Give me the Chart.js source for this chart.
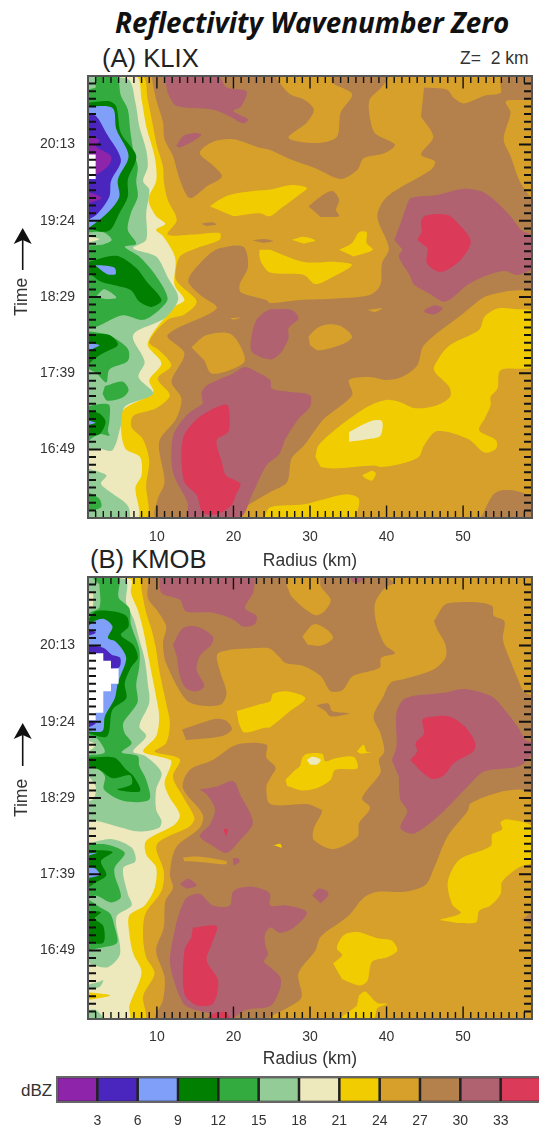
<!DOCTYPE html>
<html><head><meta charset="utf-8">
<style>
html,body{margin:0;padding:0;background:#fff;width:539px;height:1127px;overflow:hidden;position:relative;font-family:"Liberation Sans",sans-serif;color:#222}
canvas{position:absolute;left:0}
.t{position:absolute;white-space:nowrap;line-height:1}
</style>
<script src="https://cdn.jsdelivr.net/npm/chart.js@4/dist/chart.umd.min.js"></script>
</head><body>
<div class="t" style="left:115px;top:3px;font:italic 700 27.8px 'Open Sans';color:#111" id="title">Reflectivity Wavenumber Zero</div>
<div class="t" style="left:102px;top:46px;font-size:25.6px">(A) KLIX</div>
<div class="t" style="left:460px;top:50px;font-size:17.5px;color:#333;white-space:pre">Z=  2 km</div>
<div class="t" style="left:90px;top:547px;font-size:25.6px">(B) KMOB</div>
<div class="t" style="left:21px;top:1082px;font-size:17px;color:#333">dBZ</div>
<canvas id="a" width="539" height="520" style="top:60px"></canvas>
<canvas id="b" width="539" height="520" style="top:561px"></canvas>
<canvas id="c" width="560" height="57" style="top:1070px"></canvas>
<script>
// ---- axes ----
const RADIUS_RANGE=[1,59], SCAN_RANGE=[1,59];
const TIME_TICK_SCANS=[10,20,30,40,50];
const TIME_TICK_LABELS=['16:49','17:39','18:29','19:24','20:13'];
const DBZ_TICKS=[3,6,9,12,15,18,21,24,27,30,33];
const DBZ_BAND_LOW=[0,3,6,9,12,15,18,21,24,27,30,33];
const DBZ_BAND_HIGH=[3,6,9,12,15,18,21,24,27,30,33,36];
const DBZ_COLORS=['#8E24AA','#4A25BE','#7F9FF8','#007F00','#33AB3F','#93CC97','#EEE8BD','#F0CC00','#D6A02A','#B4814C','#B06270','#DB3A58'];
const FULL=[[1,1],[59,1],[59,59],[1,59]];
// ---- KLIX contours: [radius km, scan index], by dBZ band ----
const kBrown1=[[9.3,59],[9.9,55.9],[10.8,52.9],[11,50.7],[12.1,48.5],[13,45.4],[14.3,43],[16.5,44.5],[18.5,45.8],[17.4,47.2],[15.6,48.9],[17.4,50.4],[20,50.7],[23.4,49.6],[24.8,49.3],[27.6,48],[30.7,46.9],[34,45.5],[36.2,46.7],[37,48.2],[39.8,48.9],[41.1,50],[38.5,51.5],[37.8,53.7],[37.8,55.9],[39.4,57.6],[40.2,59],[33,59],[32.9,58.1],[35.5,56.6],[34,54.2],[33.5,51],[30.7,50.2],[27.2,50.9],[29.6,52.9],[30.5,54.6],[29.2,55.9],[27.4,56.6],[26.1,58],[25.5,59]];
const kBrown2=[[44.9,57.5],[47.9,57.2],[48.8,56.1],[50.1,55.4],[52.8,56.4],[54.9,56.8],[54.9,58],[55.4,59],[59.2,59],[58.9,56.1],[55.6,55.7],[56.2,54.2],[55.3,50.7],[56.2,48.5],[57.3,45.4],[58.4,43.6],[59.2,42.5],[59.2,31.6],[55.4,30.7],[52.8,30],[50.1,27.9],[44.9,23.7],[44,21],[42,19.5],[40,19.1],[37.8,19.5],[35.1,19.1],[35.5,17.1],[31.8,14],[30.5,12.3],[29.2,10.5],[27.6,8.8],[27,5.7],[24.8,4.4],[21.3,2.2],[20.8,1],[9.9,1],[10.1,3.5],[11,5.7],[10.3,11],[12.5,14],[13.2,16.7],[11.9,18.9],[13.6,22.6],[11.4,25],[17.8,28.5],[15.6,30.3],[14.1,32.2],[16.5,35.3],[18.2,36.4],[21.3,36.6],[21.9,34],[20.8,31.6],[21,30.6],[24.3,29.6],[24.8,29.2],[28.7,29.6],[33.5,29.8],[37.9,30.3],[39.2,31.6],[39.4,34.4],[40.3,36.4],[38.8,40.6],[40.1,43.2],[45.8,46.7],[46.3,47.8],[44.5,48.7],[46.1,51],[44.5,53.7]];
const kBrown3=[[29.8,41.9],[31.4,43.2],[32.9,43.9],[33.8,42.8],[33.4,41.4],[33.8,40.6],[31.4,40.5]];
const kBrown4=[[52.3,1],[52.7,1.8],[53.8,3.9],[54.9,4.6],[57.1,4.5],[59.1,3.5],[59.1,1]];
const kBrown5=[[22.5,37.4],[24,37.6],[25.2,37.3],[24,37.1]];
const kBrown6=[[15.8,39.6],[17.2,39.8],[17.8,39.5],[16.5,39.3]];
const kGold1=[[29.8,24.8],[30.9,25.9],[32.2,26.4],[34,26.2],[35.5,24.8],[34.2,23.8],[31.1,23],[30,23.7]];
const kGold2=[[14.5,23.4],[16.5,25],[19.7,25.1],[21.5,21.7],[19.5,20.4],[17.1,20],[16.2,21.7]];
const kGold3=[[37.5,28.3],[39.4,28.5],[38.5,28]];
const kGold4=[[19.5,27.2],[21,27.3],[20,27]];
const kYellow1=[[16.9,41.9],[18.2,42.8],[19.5,43.4],[22.6,43.9],[24.8,44.1],[27.6,44.7],[29.6,44.3],[28.3,43.2],[26.3,41.7],[24.8,40.6],[23.4,41],[20,40.6]];
const kYellow2=[[27.6,37.5],[29.2,37.9],[30.7,37.4],[29.2,37]];
const kYellow3=[[33.8,36.2],[35.5,37.1],[36.4,38.5],[37.4,38.5],[37.4,37.1],[38.2,36.2],[35.7,35.3]];
const kYellow4=[[23.4,36.2],[23.4,35.3],[23.7,34.4],[24.8,33.2],[29.2,32.9],[30.7,31.7],[33.1,32.7],[35.5,34.2],[33.5,34.6],[29.2,34.6],[24.8,36.2]];
const kYellow5=[[30.7,9],[31.1,10.5],[33.8,13],[37.5,15.6],[39.9,16.5],[41.8,16.2],[43.8,15.4],[46.6,15.8],[48.3,16.9],[48.2,18.2],[46.2,20.4],[46.9,22.1],[48.3,23.7],[52.1,25.7],[52.8,27.4],[54.5,28.5],[57.1,28.4],[59.2,28],[59.2,21],[54.9,20.4],[54.5,18],[53.6,16.9],[53.6,15.8],[52.9,14.2],[52.1,12.5],[54.3,11.2],[54.3,10.1],[52.8,9.6],[50.6,11.4],[46.6,12.4],[44.9,10.5],[44.2,9],[41.8,8.1],[39.2,7.7],[38.4,7.9],[33.1,7.5],[31.4,7.7]];
const kYellow6=[[36.8,6.6],[38.1,7.2],[38.6,6.8],[38.1,5.9],[37.2,6.2]];
const kYellow7=[[24,1],[24.8,2.4],[29.2,2.8],[32.7,3.7],[35.1,4.1],[36.4,3.5],[36,1]];
const kCreamSpot=[[35.1,12.3],[37.9,13.7],[39.4,13.7],[39.2,11.8],[37.9,11.4],[35.1,11]];
const kMauve1=[[11,59],[18,59],[19.1,57.5],[21.7,57],[21,55],[20,54.4],[21.9,53.3],[21.3,52.8],[19.5,53.7],[17.3,54.6],[12.5,55.1],[11.4,56.8]];
const kMauve2=[[12.5,49.8],[13.4,51.1],[14.7,51.5],[15.8,51.3],[14.3,50.2],[13,49.6]];
const kMauve3=[[41,37.5],[41.7,39.3],[42.6,41.9],[43.2,43],[46.6,43.4],[50.1,44.2],[52.3,43.9],[54,42.8],[56.2,40.6],[57.6,38.8],[59.2,37.9],[59.2,34],[57.1,32.9],[55.4,33.4],[52.5,32.6],[50.6,31.6],[47.7,29.4],[45.5,30.5],[43.6,31.6],[43.1,32.7],[41.6,35.3],[42.1,36.2]];
const kMauve4=[[44.9,28.3],[46.2,28.9],[47.3,28.5],[46.2,27.7],[45,28]];
const kMauve5=[[24.8,28.4],[27.6,28.3],[28.5,27.2],[27.2,25.9],[27.2,24.6],[26.1,22.6],[24.8,21.8],[22.4,22.8],[22.4,25],[23,27],[24,28]];
const kMauve6=[[15.8,17.5],[16.5,18.4],[20,20],[21.5,20.8],[23,20.2],[24.8,19.1],[25,18],[27,17.6],[30,17.1],[30,15.6],[28.5,14],[26.8,11.4],[26,9.4],[24.3,7.9],[22.4,4],[20.8,1],[14.2,1],[14,3],[12.1,7],[12.1,11.7],[13.9,14.5],[16,16]];
const kRed1=[[44,37.5],[44.6,38.6],[44.5,39.9],[45.1,40.7],[47.9,40.8],[49.3,39.7],[51,37.3],[49.7,34.9],[47.1,33.3],[45.3,34.4],[45.4,36.4]];
const kRed2=[[13.2,10.1],[13.6,12],[15.6,14.3],[19.1,15.9],[19.5,14],[19.3,12.3],[17.8,11.2],[18.5,8.3],[19,6.6],[20.9,5.5],[20.4,4.2],[19.7,2.6],[17.8,1.5],[16,1.7],[15.2,4],[13.6,5.7],[13.2,8.3]];
const kBandYellow=[[1,59],[8.1,59],[8.8,55.9],[9.5,52.4],[10,49.8],[10.8,47.1],[10.9,45.2],[11.4,42.8],[12.6,40.1],[11.4,38.2],[14.7,38.2],[18.2,38.4],[18.2,37.5],[15.2,36.4],[13,35.3],[12.4,32.6],[13,31.6],[15.2,29.4],[13.6,27.7],[11.4,27],[9,24.1],[10.3,23],[11.9,21],[10.1,19.3],[11.7,17.1],[9.9,15.4],[6.9,14.4],[6.7,12.9],[8.2,11.3],[9,8.5],[8.6,5.4],[8.6,1],[1,1]];
const kBandCream=[[1,59],[7.3,59],[8,55.9],[8.6,52.4],[9.6,48.9],[9.9,47.1],[9.9,45.2],[8.9,42.8],[9.9,40.6],[11.1,39.6],[9.9,38.8],[10.8,38],[12.4,35.1],[12.3,31.6],[13.6,29.6],[12.3,28.7],[8.8,23.9],[10.6,21.3],[9,19.1],[9.5,17.5],[5.5,15.1],[5.3,12.7],[5.9,10.1],[7.8,9],[8,6.6],[7.2,5],[7.5,1],[1,1]];
const kBandLight=[[1,59],[6.2,58.6],[7.2,55.5],[7.7,52.4],[8.6,49.3],[8.8,47.1],[8.2,45.2],[9,44.1],[8.6,41],[8.6,37.5],[6.9,36.4],[9.9,35.3],[11.4,32.6],[12.8,29.8],[11,27.2],[6.9,25],[8.4,21.5],[7.6,19.5],[9.5,17.3],[5.8,15.6],[5.3,13.2],[4.2,9.9],[2.5,10.1],[1,9.9]];
const kLight2=[[1,7.5],[3.4,6.6],[2.7,5.5],[4.2,4.2],[6.2,2.6],[6.3,1],[1,1]];
const kGreen1=[[2,59],[4.7,59],[5.3,56.4],[6.2,54.6],[6.5,52],[6.9,49.3],[7.5,47.1],[7.3,45.2],[7.5,43.2],[6.6,41],[6.2,38.8],[7.3,37],[5.8,36.6],[7.7,35.3],[10,32.6],[11.4,29.8],[10.3,28.3],[8.2,27],[5.5,27.6],[2.1,26.1],[1,26.1],[1,57],[2,57.5]];
const kGreen2=[[1,25.5],[3,25.2],[3.8,25],[6.2,23.2],[6.2,21.6],[3.8,20.5],[3.4,18.8],[2.1,20],[1,20.6]];
const kGreen3=[[3.2,18.3],[5.5,18.9],[6.3,17.8],[5.5,16.8],[3.5,16.4],[2.9,17.3]];
const kGreen4=[[1,15.7],[3,16],[3.8,15.8],[3.8,13.8],[3.6,12.4],[3.8,11.8],[2.5,12],[1.4,11.4],[1,11]];
const kGreen5=[[1,4.4],[2.5,3.5],[2.7,2.4],[1,1.9]];
const kLightSpot1=[[1,38.5],[3,38.5],[4.1,37.5],[3,36.9],[1,36.8]];
const kCreamEdge=[[1,37.9],[2.5,37.6],[1,37.1]];
const kLightSpot2=[[2,30],[3,31],[4,30.6],[4.7,29.9],[3.4,29.7]];
const kDark1=[[1,55.5],[3.8,55.7],[4.7,55],[5.3,51.5],[7.3,48.5],[6.2,45.4],[6.2,43.2],[5.1,41],[3.9,38.8],[2.5,38.6],[1,39.2]];
const kDark2=[[1,34.6],[4.7,35.4],[7.3,33.8],[8.6,32.1],[10.6,29.6],[9.3,28.7],[7.7,29.4],[6.6,30.9],[4.2,31.6],[2.5,32.1],[1,33.3]];
const kDark3=[[1,25.2],[3.8,25],[4.9,23.7],[2.9,22.6],[1.6,21.7],[1,21]];
const kDark4=[[1,15.1],[2.5,14.7],[3.3,13.6],[2.5,12],[1,11.8]];
const kBlue1=[[1,55],[4.2,54.8],[4.7,52],[6.3,48.5],[4.9,45.4],[5.1,43.2],[4,41.5],[2.5,40.1],[1,39]];
const kBlue2=[[1.9,34.2],[3.4,34.1],[4.5,33.8],[4.6,33],[3.5,33],[2.5,33.7]];
const kBlue3=[[1,23.9],[2.5,23.7],[1.3,23],[1,22.6]];
const kBlue4=[[1,13.8],[2,13.5],[1,13.2]];
const kIndigo=[[1,54],[2.1,53.7],[3.4,51.5],[5.3,48],[4,45.2],[3.8,43.2],[2.3,41],[1,40.1]];
const kPurple1=[[1,51.1],[2.5,50.6],[2,49.8],[4,48.5],[3.8,47.4],[2,46],[1,46]];
const kPurple2=[[1,43.8],[2.8,43],[1,42.3]];
const kNoData=[[1,48.7],[2,48.7],[2,45.5],[1,45.5]];
// ---- KMOB contours ----
const mBrown1=[[9,59],[8.8,56.3],[10.1,54.5],[11.2,52.5],[10.8,50.3],[11.2,47.7],[13.8,42.9],[16,42.1],[18.4,42.3],[19.1,43.8],[18.2,46.8],[18,49],[23.4,49.7],[24.8,49.6],[26.1,48.4],[26.8,47.7],[29.2,47.3],[31.4,46],[32.7,44],[34.3,44.2],[35.6,46],[39.1,47.1],[39.3,48.4],[41.1,49],[39.8,50.1],[38.7,52.8],[38.5,55.6],[39.8,57.6],[40.9,58.2],[40.1,59]];
const mBrown2=[[46.2,53.2],[47.4,55.2],[48.2,55.6],[51.7,55.7],[53.8,55.2],[54,53.9],[55.4,53.2],[55.2,50.8],[56.1,48.2],[57,46],[57.9,44],[59.2,43.1],[59.2,30.9],[57.3,31.1],[54.5,30.7],[51,29.3],[50.6,28.3],[48,25],[46.2,20.8],[45.1,18.6],[42.3,17.7],[38.8,17.7],[37,16.9],[35,14.5],[31.4,11.8],[30.7,10],[28.5,7],[28.9,3.9],[27.3,2.6],[24.8,1.3],[24.6,1],[9.9,1],[10.8,3.5],[11,6.5],[9.9,10],[10.9,13],[11.1,16.5],[12.1,18.2],[11.7,20],[12.5,23.5],[15.6,26.1],[16,27.8],[13.4,31.3],[14.3,33.7],[17.3,35],[20.4,37],[24.3,37],[24.3,35.3],[25.5,34],[24.8,32.6],[24.3,31.5],[24.8,29.2],[29.6,29.2],[31,28.7],[31.6,28.3],[30.5,26],[30.5,24.5],[33.1,23.3],[36.2,24.9],[36.4,26.7],[37.7,28.3],[37.8,28.9],[36.8,30],[39.2,33.3],[39,35],[39.7,36.1],[39.2,38.5],[38.3,40.7],[39.6,43.4],[40.5,45.1],[42.3,45.6],[46.2,46.9],[47.7,48.4],[47.7,50.1],[46.6,52.1]];
const mBrown3=[[13.3,39],[16,39.9],[17.8,40.4],[19.1,40.1],[19.8,39],[18.4,38.1],[13.8,37.6]];
const mBrown4=[[30.8,42.2],[32.4,42.4],[32.9,41.4],[35.1,41.1],[32.7,40.7],[32,41.4]];
const mBrown5=[[57.6,14],[59.2,15],[59.2,13.3]];
const mGold1=[[27,57.8],[27.7,56.3],[30.6,54],[31.9,54.5],[32.7,56],[31.4,57.8],[31.2,59],[27,59]];
const mGold2=[[29,51.2],[30.5,52.8],[32.2,52.1],[33,51],[31.5,50],[29.7,50.1]];
const mGold3=[[13.4,22.2],[15.6,22.3],[19.1,21.7],[19,21.3],[15.6,21.6],[13.6,21.7]];
const mYellow1=[[20.4,41.4],[23.4,42.3],[24.8,42.7],[25.2,43.7],[27,44],[29.4,43.1],[27.4,41.4],[24.8,39.3],[24,39.2],[21.4,38.6],[20.7,39.8]];
const mYellow2=[[26.8,32.4],[28.1,33.7],[28.7,34.2],[29,35.3],[29.6,35.8],[31.6,35.8],[32,34.8],[33.3,35.2],[35.7,35.4],[36.2,33.9],[33.3,33.7],[32.7,32.4],[30.9,31.3],[28.9,31],[27,31.6]];
const mYellow3=[[36.1,36.1],[37,37],[37.4,36.1],[38,36],[36.6,35.8]];
const mYellow4=[[46.9,14],[49.7,14.9],[48.6,16],[48,19],[49.5,21.9],[53.6,23.7],[53.8,25.2],[55.1,25.9],[54.9,26.8],[55.8,27.2],[59.2,26.1],[59.2,21.7],[57.3,20.9],[55.1,19],[54.9,17.4],[53.6,15.9],[52.1,15.2],[51.7,13.7],[49.3,13.6]];
const mYellow5=[[33,8.3],[34.2,9.4],[33.5,10.3],[34.4,12],[36.2,12.4],[38.8,11.6],[40.7,11.3],[41.4,10],[40.1,9.1],[38.1,8.5],[37.5,6],[36.4,5.4],[34.2,6.2]];
const mYellow6=[[36.4,4.1],[37.2,4.6],[38.8,3.1],[40.1,3],[38.8,2.4],[38.3,1],[34,1],[35.3,2.1],[36.1,2.7]];
const mYellow7=[[25.2,23.8],[26.1,24],[26.3,23.5],[25.6,23.7]];
const mCreamSpot=[[29.6,35],[30.3,35.4],[31.4,35],[30.9,34.4],[30,34.4]];
const mMauve1=[[10.3,59],[10.6,56.9],[13,56],[13.8,54.5],[17.3,54.3],[20,53.4],[21.3,52.5],[22.8,52.8],[23,53.9],[21.5,54.9],[22.6,57],[22.8,59]];
const mMauve2=[[12.1,50.1],[13.4,52.3],[15.2,52.5],[17.3,51.2],[17.1,50.1],[15.6,48.6],[15.2,46.8],[16.2,44.7],[15.2,44],[13.8,44.4],[13,46],[12.6,48.6]];
const mMauve3=[[40.7,35],[41.3,36.8],[41.3,41.2],[42.5,43.1],[47.5,43.8],[50.1,44.3],[53.8,43.3],[55.4,41.6],[57.1,39.4],[58.2,37.6],[59.2,37.2],[59.2,36.1],[57.4,34.2],[52.8,33.5],[50.6,31.5],[47.5,28.3],[44.9,26.1],[43.3,25.3],[41.8,26.1],[42.7,28.3],[41.8,29.8],[41.6,32.8]];
const mMauve4=[[15.6,31.1],[17.8,31.5],[20,32.2],[21,30.2],[22.2,28],[22.5,26.5],[20.8,24.4],[19.1,22.8],[17.3,23.7],[15.6,25],[16.9,26.5],[17.6,28.3],[17.3,29.3],[16.5,30.5]];
const mMauve5=[[19.9,22.1],[20.6,22.1],[20.8,21.6],[20,21.1]];
const mMauve6=[[13,18.7],[14.1,19.4],[15.2,18.5],[13.9,18.1]];
const mMauve7=[[30.3,17.2],[31.1,18.1],[32.2,17.8],[32.4,17.2],[31.4,16.2]];
const mMauve8=[[13,15.2],[13.9,16.9],[15.6,17.4],[17.3,15.9],[19.5,15.9],[20,17.8],[22.1,18.4],[23.9,18],[24.8,17.4],[24.8,15.9],[27,15.9],[29.6,15],[27.9,13],[26.1,12.3],[24.8,13],[24.1,12],[24.2,10.5],[24.5,9.5],[24,8.5],[24.8,7.8],[26.1,6.5],[26.1,5],[24.8,2.7],[21.7,2.2],[19.7,1],[18.2,1],[17.3,1.6],[13.8,2.7],[12.5,5.2],[11.7,8.7],[12.5,13.5]];
const mMauve9=[[35.2,59],[37,59],[36.5,58.3],[35.5,58.3]];
const mRed1=[[43.1,35],[44,36.1],[43.8,37.2],[44.9,38.5],[44.7,40.3],[46.2,40.7],[48.2,40.7],[50.2,39.4],[51.6,37.2],[51.3,36.1],[48.8,34.6],[47.5,33],[46,32.5],[44.7,33.3]];
const mRed2=[[14.7,13],[17.8,13.2],[17.3,11.2],[16.5,8.7],[18,6],[17.3,3],[15.2,2.8],[13.6,4.3],[13.6,10],[14.5,11.7]];
const mRed3=[[18.7,25.9],[19.3,25.9],[19,24.9]];
const mRed4=[[16.5,1],[17.3,1.7],[19,1.9],[19.7,1]];
const mBandYellow=[[1,59],[7.7,59],[8,57.3],[8.6,54.3],[9.3,52.1],[9.9,49.5],[10.3,46.8],[11.2,42.5],[11.7,39.8],[11.2,37.2],[9.7,36.1],[13,35.1],[12.1,32.8],[13.4,30.2],[14.9,27.4],[14.3,26.3],[10,23.9],[10.9,20.4],[10.6,17.8],[8.5,14.8],[8.2,11.7],[8.6,9.1],[9.7,7],[8.2,4],[8.4,1],[1,1]];
const mBandCream=[[1,59],[6.6,58.7],[6.6,56.9],[7.5,54.7],[8.2,52.1],[8.8,49],[9.3,46.4],[9.9,43.3],[10.3,40.7],[9.9,38.1],[8.2,36.1],[10.8,35.3],[11.9,34.8],[11,32],[11.6,30.2],[13,27.8],[12.3,26.5],[8.6,24.4],[8.6,22.6],[9.9,20.9],[9.7,18.2],[8.4,15.9],[6.4,14.6],[6.4,12.2],[6.9,9.6],[8,7.1],[6.4,2.7],[6.4,1],[1,1]];
const mBandLight=[[1,59],[5.9,58.7],[6,55.6],[7,53.4],[7.7,50.8],[8.4,48.2],[8.8,45.1],[9,42.5],[7.7,39.4],[8.6,38.1],[6.9,36.1],[8.5,35.5],[10.6,33.3],[9.9,31.1],[9.9,28.5],[10.6,27],[10.3,26.1],[7.7,25.6],[4.7,26.3],[2,27],[1,27]];
const mLight2=[[1,24],[4.1,24.6],[6.7,23.5],[7.2,21.7],[5.6,20.8],[6.2,17.4],[6.7,15.9],[4.7,14.4],[5.2,9.6],[3.6,7.8],[1.4,8.2],[1,8.6]];
const mLight3=[[1,5.5],[2.5,5.9],[3,6.1],[2.5,5.2],[1,4.9]];
const mLight4=[[1,2.2],[2,2.2],[3,1],[1,1]];
const mYellowEdge=[[1,4.5],[3.9,4.1],[1,3.5]];
const mGreen1=[[1.5,59],[5,59],[5,56.3],[6.4,54.9],[6.6,52.8],[7.7,49.5],[7.7,47.3],[7.3,44.9],[7.5,42.7],[6.9,41.6],[5.6,39.8],[5.8,38.5],[6.7,37.2],[5.4,36],[7.5,35.5],[7.7,34.2],[8.6,32.4],[9,29.8],[5.7,29.6],[3.1,31.1],[3.2,32.9],[1.7,34.4],[1,35],[1,54],[2.5,55],[2.5,58]];
const mGreen2=[[1,23.9],[3.4,23.9],[5.8,22.8],[4.5,20.9],[4.5,19.8],[5.3,17],[4,16.3],[2,17.2],[1,16.7]];
const mGreen3=[[1,16.7],[2.5,15.7],[3.9,14.8],[4.5,13],[4.8,11],[3,10.4],[1,10]];
const mLightEdge=[[1,38],[2,38],[3.2,36],[1,35.6]];
const mCreamEdge1=[[1,37.5],[2,37],[1,36]];
const mCreamEdge2=[[1,57],[1.6,57],[1.6,55],[1,55]];
const mCreamEdge3=[[1,33],[2,31.5],[1.8,30],[1,29.5]];
const mDark1=[[1,53.4],[2,54.5],[4.2,54.5],[6,53.9],[6.3,52.5],[5.3,51.4],[6.9,50.1],[7.5,48.4],[6.6,47.1],[5.8,45.1],[6,43.1],[4.2,41.6],[3.5,38.1],[1,38.5]];
const mDark2=[[1,35.3],[4.4,35.3],[6,33.7],[7,32.8],[7.8,30.9],[4.8,31.1],[6.7,31.8],[6.5,33],[4.2,32.6],[2.5,33.7],[1,34.2]];
const mDark3=[[1,23.2],[4.2,22.9],[2.7,21.7],[3.4,19.9],[2,18.9],[1,18.2]];
const mDark4=[[1,15.2],[2.7,15],[1.9,14.2],[3,13.2],[3,11],[1,11]];
const mBlue1=[[1,52.5],[1.8,53.2],[3.1,53.5],[4.2,52.5],[3.6,51],[4.5,50.6],[5.5,49.5],[6,48.2],[4.9,45.1],[4.5,43.1],[3.2,40.7],[2.9,38.8],[1,38.7]];
const mBlue2=[[1,22.7],[2.2,22.8],[1,22.4]];
const mBlue3=[[1,20.9],[2,20.7],[2.5,19.9],[1,19.5]];
const mIndigo1=[[1,52.2],[2,51.7],[1,51.3]];
const mIndigo2=[[1,50.1],[3,49.7],[4.1,48.8],[5.2,48.4],[5,47.1],[1,47.1]];
const mIndigo3=[[1,40],[2,39.8],[1,39.2]];
const mNoData=[[1,49],[3,49],[3,48],[4,48],[4,47],[5,47],[5,45],[4,45],[4,44],[3,44],[3,41.2],[2,41.2],[2,40.2],[1,40.2]];
// painting order: [band index in DBZ_COLORS (-1 = no data), contour]
const klixLayers=[[8,FULL],[9,kBrown1],[9,kBrown2],[9,kBrown3],[9,kBrown4],[9,kBrown5],[9,kBrown6],[8,kGold1],[8,kGold2],[8,kGold3],[8,kGold4],
[7,kYellow1],[7,kYellow2],[7,kYellow3],[7,kYellow4],[7,kYellow5],[7,kYellow6],[7,kYellow7],[6,kCreamSpot],
[10,kMauve1],[10,kMauve2],[10,kMauve3],[10,kMauve4],[10,kMauve5],[10,kMauve6],[11,kRed1],[11,kRed2],
[7,kBandYellow],[6,kBandCream],[5,kBandLight],[5,kLight2],[4,kGreen1],[4,kGreen2],[4,kGreen3],[4,kGreen4],[4,kGreen5],[5,kLightSpot1],[6,kCreamEdge],[5,kLightSpot2],
[3,kDark1],[3,kDark2],[3,kDark3],[3,kDark4],[2,kBlue1],[2,kBlue2],[2,kBlue3],[2,kBlue4],[1,kIndigo],[0,kPurple1],[0,kPurple2],[-1,kNoData]];
const kmobLayers=[[8,FULL],[9,mBrown1],[9,mBrown2],[9,mBrown3],[9,mBrown4],[9,mBrown5],[8,mGold1],[8,mGold2],[8,mGold3],
[7,mYellow1],[7,mYellow2],[7,mYellow3],[7,mYellow4],[7,mYellow5],[7,mYellow6],[7,mYellow7],[6,mCreamSpot],
[10,mMauve1],[10,mMauve2],[10,mMauve3],[10,mMauve4],[10,mMauve5],[10,mMauve6],[10,mMauve7],[10,mMauve8],[10,mMauve9],[11,mRed1],[11,mRed2],[11,mRed3],[11,mRed4],
[7,mBandYellow],[6,mBandCream],[5,mBandLight],[5,mLight2],[5,mLight3],[5,mLight4],[7,mYellowEdge],[4,mGreen1],[4,mGreen2],[4,mGreen3],[5,mLightEdge],[6,mCreamEdge1],[6,mCreamEdge2],[6,mCreamEdge3],
[3,mDark1],[3,mDark2],[3,mDark3],[3,mDark4],[2,mBlue1],[2,mBlue2],[2,mBlue3],[1,mIndigo1],[1,mIndigo2],[1,mIndigo3],[-1,mNoData]];

const STAIR=new Set([mNoData,kNoData,FULL]);
const frame={id:'frame',afterDatasetsDraw(ch,_a,o){
  const {ctx,chartArea:A,scales:{x,y}}=ch;
  ctx.save();ctx.strokeStyle='#111';
  ctx.lineWidth=1.4;
  x.ticks.forEach(t=>{const p=x.getPixelForValue(t.value),L=t.value%10===0?12.5:7;
    ctx.beginPath();ctx.moveTo(p,A.top);ctx.lineTo(p,A.top+L);ctx.moveTo(p,A.bottom);ctx.lineTo(p,A.bottom-L);ctx.stroke();});
  ctx.lineWidth=2;
  y.ticks.forEach(t=>{const p=y.getPixelForValue(t.value),L=t.value%10===0?13:8;
    ctx.beginPath();ctx.moveTo(A.left,p);ctx.lineTo(A.left+L,p);ctx.moveTo(A.right,p);ctx.lineTo(A.right-L,p);ctx.stroke();});
  ctx.strokeStyle='#555';ctx.lineWidth=2;ctx.strokeRect(A.left,A.top,A.right-A.left,A.bottom-A.top);
  // time arrow
  ctx.strokeStyle='#111';ctx.fillStyle='#111';ctx.lineWidth=1.6;
  const X=22.7,T=A.top+o.tip;
  ctx.beginPath();ctx.moveTo(X,T+10);ctx.lineTo(X,T+o.len);ctx.stroke();
  ctx.beginPath();ctx.moveTo(X,T);ctx.lineTo(X+9,T+16);ctx.lineTo(X,T+12);ctx.lineTo(X-9,T+16);ctx.closePath();ctx.fill();
  ctx.restore();
}};
function panel(id,layers,o){
  return new Chart(document.getElementById(id),{
    type:'scatter',
    data:{datasets:layers.map(([b,poly],i)=>({
      data:poly.map(([x,y])=>({x,y})),showLine:true,fill:'shape',order:-i,
      backgroundColor:b<0?'#fff':DBZ_COLORS[b],borderColor:'rgba(0,0,0,0)',borderWidth:0,
      pointRadius:0,pointHoverRadius:0,tension:STAIR.has(poly)?0:0.3}))},
    options:{responsive:false,animation:false,devicePixelRatio:1,events:[],
      layout:{padding:{top:16,right:7,left:0,bottom:0}},
      plugins:{legend:{display:false},tooltip:{enabled:false},filler:{drawTime:'beforeDatasetDraw',propagate:false},
        frame:{tip:o.tip,len:o.len}},
      scales:{
        x:{type:'linear',min:RADIUS_RANGE[0],max:RADIUS_RANGE[1],border:{display:false},grid:{display:false,drawTicks:false},
          afterFit(s){s.height=62;s.paddingLeft=0;s.paddingRight=0},
          ticks:{stepSize:1,autoSkip:false,maxRotation:0,padding:o.xPad,color:'#333',font:{size:14,family:'Liberation Sans'},
            callback:v=>v%10===0?String(v):''},
          title:{display:true,text:'Radius (km)',color:'#333',font:{size:17.5,family:'Liberation Sans'},padding:{top:0,bottom:o.tPad}}},
        y:{type:'linear',min:SCAN_RANGE[0],max:SCAN_RANGE[1],border:{display:false},grid:{display:false,drawTicks:false},
          afterFit(s){s.width=88;s.paddingTop=0;s.paddingBottom=0},
          ticks:{stepSize:1,autoSkip:false,padding:13,color:'#333',font:{size:14,family:'Liberation Sans'},
            callback:v=>{const i=TIME_TICK_SCANS.indexOf(v);return i<0?'':TIME_TICK_LABELS[i];}},
          title:{display:true,text:'Time',color:'#333',font:{size:17.5,family:'Liberation Sans'},padding:{top:12,bottom:0}}}
      }},
    plugins:[frame]});
}
panel('a',klixLayers,{tip:152,len:42,xPad:11,tPad:8});
panel('b',kmobLayers,{tip:146,len:43,xPad:10,tPad:11});
new Chart(document.getElementById('c'),{
  type:'bar',
  data:{labels:['dBZ'],datasets:DBZ_COLORS.map((c,i)=>({data:[[DBZ_BAND_LOW[i],DBZ_BAND_HIGH[i]]],backgroundColor:c,borderColor:'#222',borderWidth:1.6,borderSkipped:false,barPercentage:1,categoryPercentage:1}))},
  options:{indexAxis:'y',responsive:false,animation:false,devicePixelRatio:1,events:[],
    layout:{padding:{top:7,right:19,left:57,bottom:0}},
    plugins:{legend:{display:false},tooltip:{enabled:false}},
    scales:{
      y:{display:false,stacked:true},
      x:{type:'linear',stacked:false,min:0,max:36,border:{display:false},grid:{display:false,drawTicks:false},
        afterFit(s){s.height=25;s.paddingLeft=0;s.paddingRight=0},
        afterBuildTicks(s){s.ticks=DBZ_TICKS.map(v=>({value:v}))},
        ticks:{autoSkip:false,maxRotation:0,padding:11,color:'#333',font:{size:14,family:'Liberation Sans'}}}
    }},
  plugins:[{id:'cbframe',afterDatasetsDraw(ch){const {ctx,chartArea:A}=ch;ctx.save();ctx.strokeStyle='#666';ctx.lineWidth=2;ctx.strokeRect(A.left,A.top,A.right-A.left,A.bottom-A.top);ctx.restore();}}]
});
</script>
</body></html>
